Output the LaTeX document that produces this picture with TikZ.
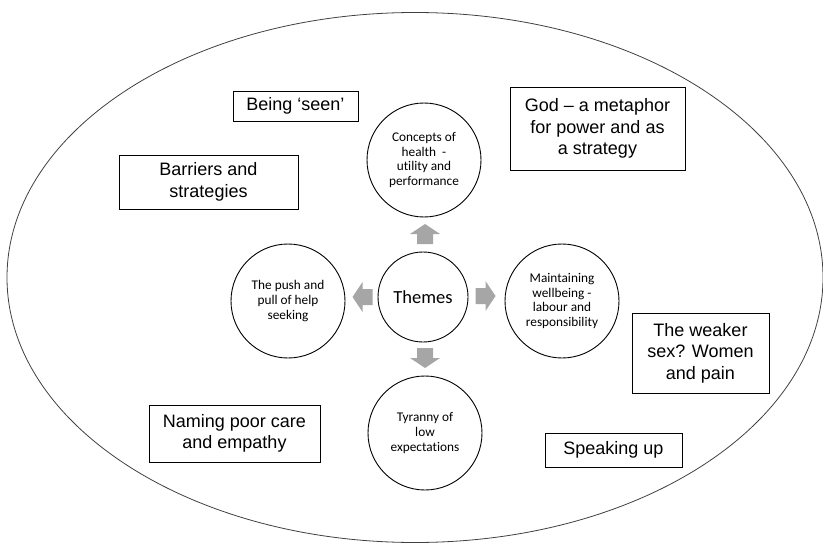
\documentclass[tikz,border=0pt]{standalone}
\usepackage{fontspec}
\setmainfont{Liberation Sans}
\newfontfamily\calib[Ligatures=NoCommon]{Carlito}
\usetikzlibrary{shapes.geometric}

\definecolor{arrowgray}{HTML}{A6A6A6}
\definecolor{linegray}{HTML}{404040}

\tikzset{
  x=1pt, y=-1pt,
  themebox/.style={draw=black, line width=0.9pt, inner sep=0pt, align=center,
    font=\fontsize{18}{21.5}\selectfont},
  themecircle/.style={circle, draw=black, line width=0.9pt, inner sep=0pt,
    minimum size=114pt, align=center, font=\calib\fontsize{13.3}{14.8}\selectfont},
  hubcircle/.style={circle, draw=black, line width=0.9pt, inner sep=0pt,
    minimum size=90pt, align=center, font=\calib\fontsize{18.5}{20}\selectfont},
  blockarr/.pic={\fill[arrowgray] (-10,-8) -- (0,-8) -- (0,-15) -- (10,0)
    -- (0,15) -- (0,8) -- (-10,8) -- cycle;}
}

\begin{document}
\begin{tikzpicture}
\useasboundingbox (0,0) rectangle (823,543);

% outer boundary
\draw[linegray, line width=0.8pt] (415,277.5) ellipse [x radius=408pt, y radius=265pt];

% central hub and the four themes
\node[hubcircle] (hub) at (423,297) {Themes};
\node[themecircle] (health) at (424,160) {Concepts of\\health\ \ -\\utility and\\performance};
\node[themecircle] (push) at (288,301) {The push and\\pull of help\\seeking};
\node[themecircle] (wellbeing) at (562,301) {Maintaining\\wellbeing -\\labour and\\responsibility};
\node[themecircle] (tyranny) at (425,433) {Tyranny of\\low\\expectations};

% block arrows from the hub
\coordinate (aup) at (425,234);
\coordinate (aleft) at (362.5,297);
\coordinate (aright) at (485.5,296);
\coordinate (adown) at (425,358);
\pic[rotate=90] at (aup) {blockarr};
\pic[rotate=180] at (aleft) {blockarr};
\pic at (aright) {blockarr};
\pic[rotate=-90] at (adown) {blockarr};

% sub-theme boxes
\node[themebox, minimum width=125pt, minimum height=30pt] (seen) at (295.5,106) {Being ‘seen’};
\node[themebox, minimum width=179pt, minimum height=54pt] (barriers) at (208.5,182) {Barriers and\\strategies};
\node[themebox, minimum width=175pt, minimum height=83pt] (god) at (597.5,128.5) {God – a metaphor\\for power and as\\a strategy};
\node[themebox, minimum width=137pt, minimum height=80pt] (weaker) at (700.5,353) {The weaker\\sex? Women\\and pain};
\node[themebox, minimum width=171pt, minimum height=57pt] (naming) at (234.5,433.5) {Naming poor care\\and empathy};
\node[themebox, minimum width=137pt, minimum height=34pt] (speaking) at (613.5,450) {Speaking up};
\end{tikzpicture}
\end{document}
